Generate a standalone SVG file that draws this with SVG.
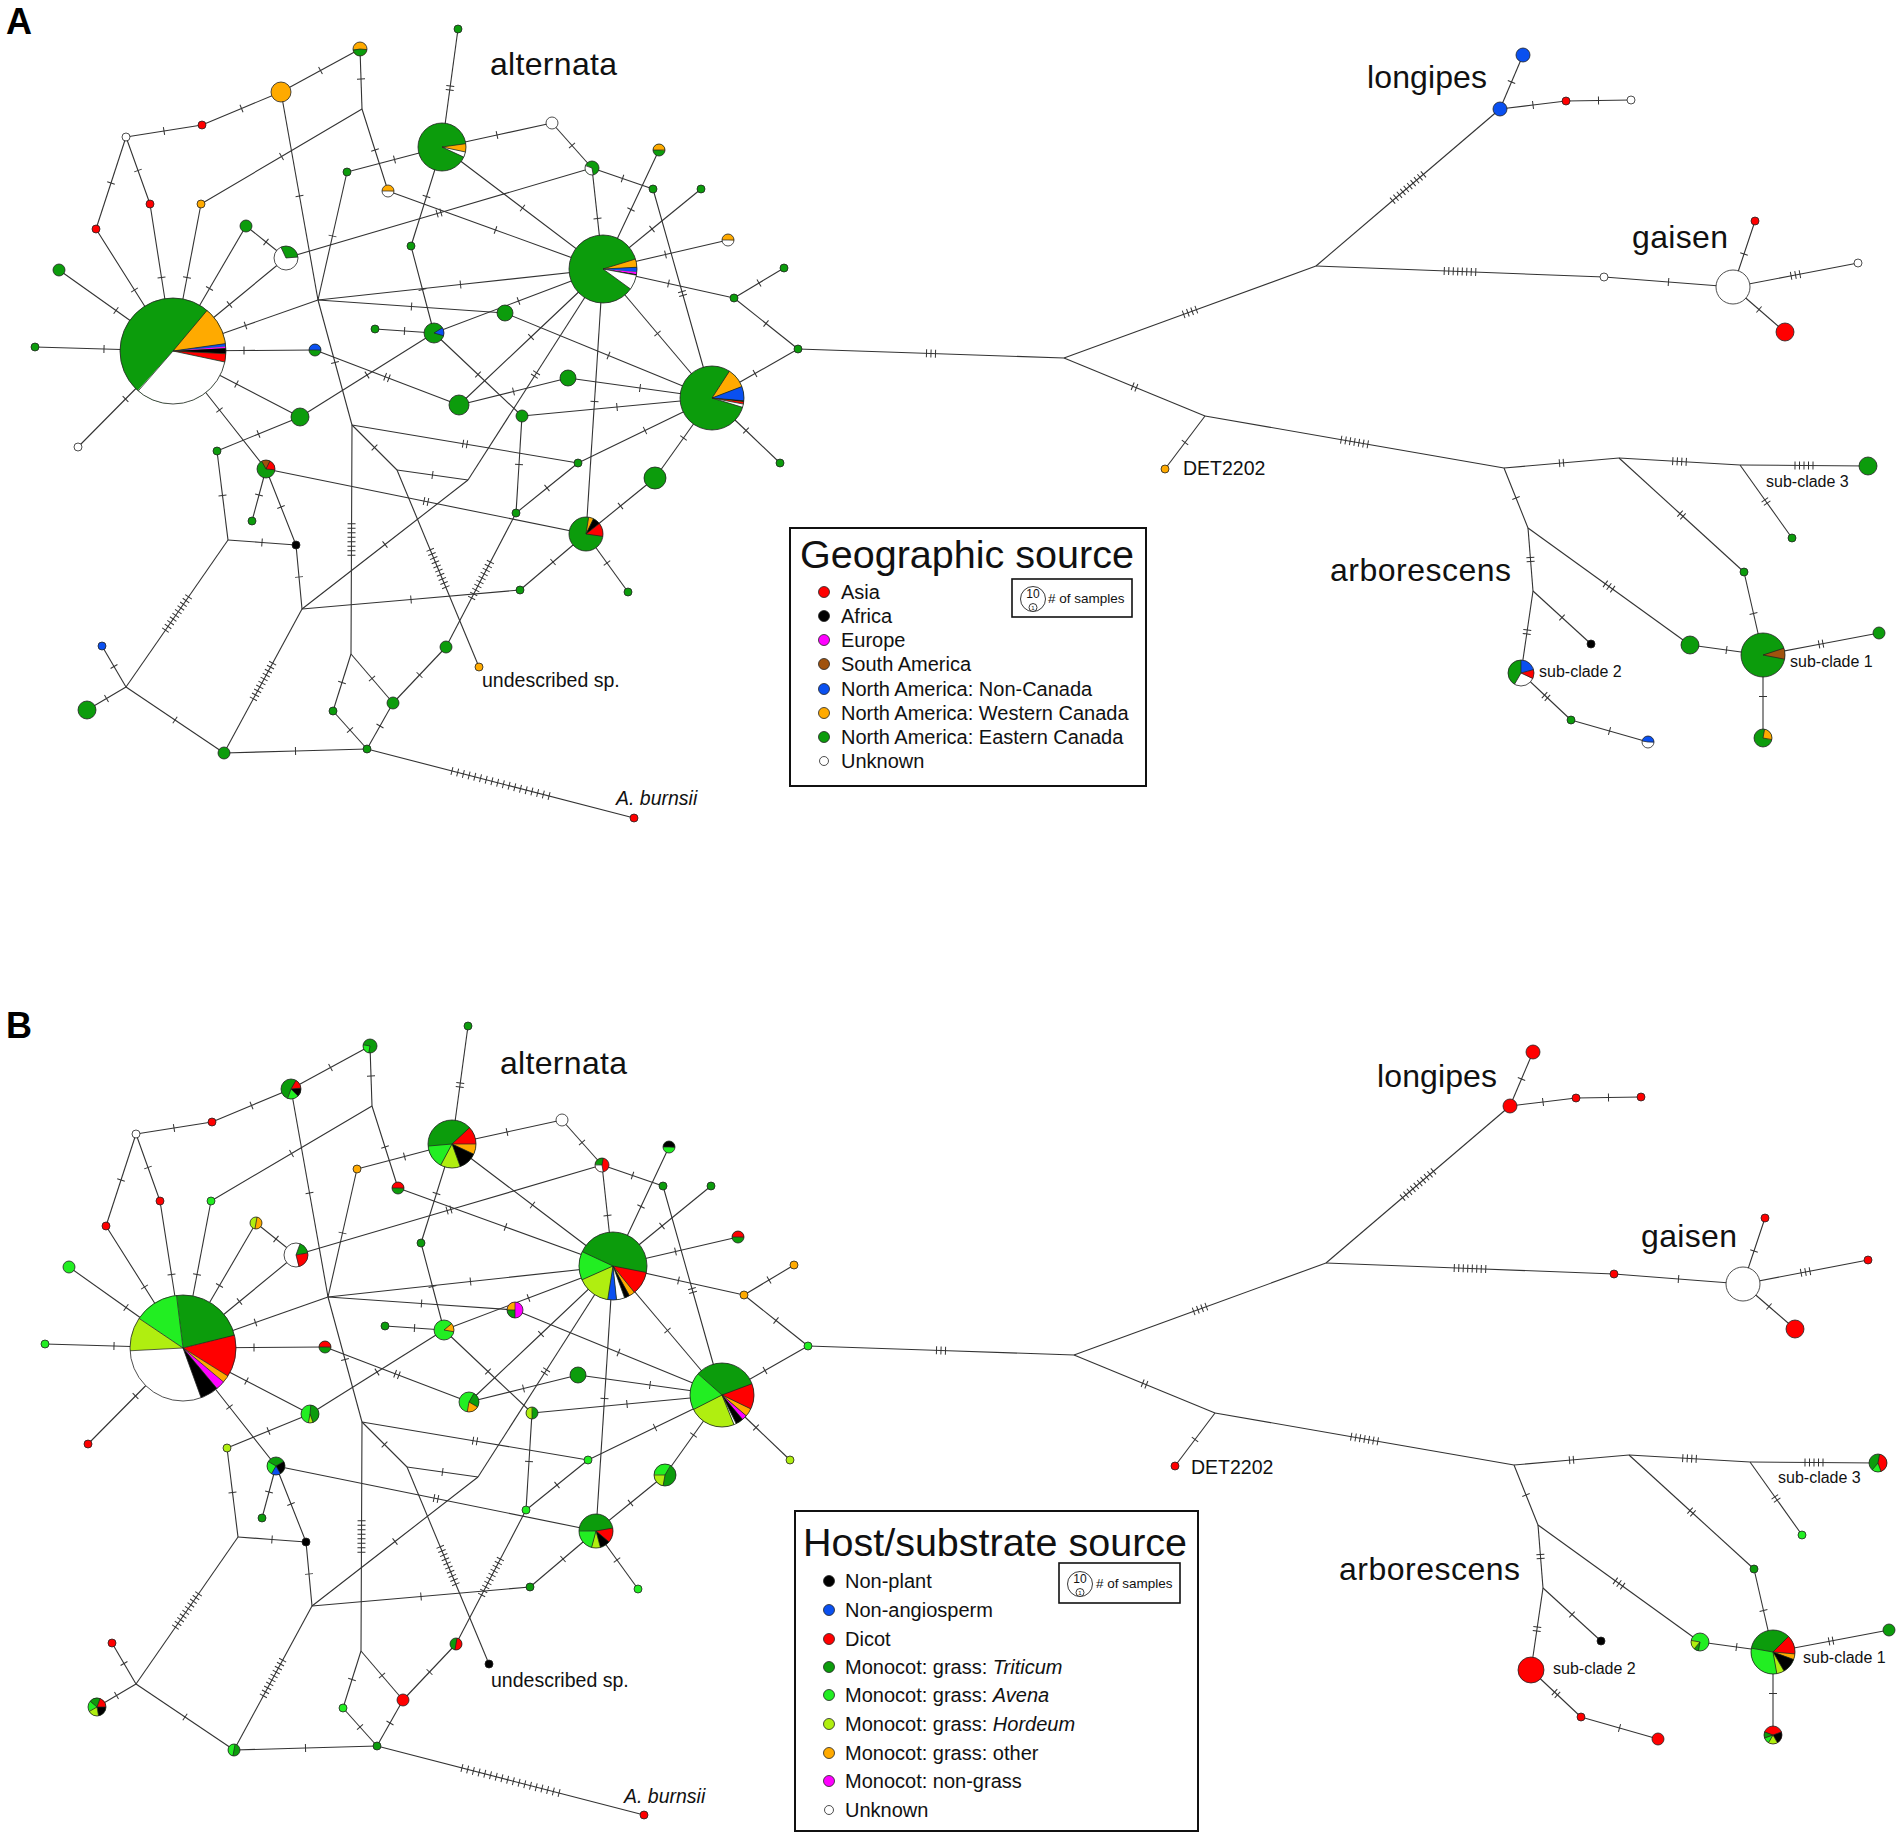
<svg xmlns="http://www.w3.org/2000/svg" xmlns:xlink="http://www.w3.org/1999/xlink" width="1902" height="1838" viewBox="0 0 1902 1838">
<style>
text{font-family:"Liberation Sans",Arial,sans-serif;fill:#111}
.pl{font-size:36px;font-weight:bold;fill:#000}
.cl{font-size:32px}
.sl{font-size:19.5px}
.sub{font-size:16px}
.lt{font-size:39px}
.li{font-size:20px}
.ls{font-size:13.5px}
.edges path{fill:none;stroke:#333;stroke-width:1.1}
.tk{fill:none;stroke:#333;stroke-width:1}
.t1{marker-mid:url(#m1)}.t2{marker-mid:url(#m2)}.t3{marker-mid:url(#m3)}.t4{marker-mid:url(#m4)}.t5{marker-mid:url(#m5)}.t7{marker-mid:url(#m7)}.t8{marker-mid:url(#m8)}.t10{marker-mid:url(#m10)}.t18{marker-mid:url(#m18)}
.nd{stroke:#222;stroke-width:.8}
.sc{fill:none}
.ol{fill:none;stroke:#222;stroke-width:.8}
.bl{stroke:#222;stroke-width:.7}
.fg{fill:#0c9c0c}.fo{fill:#ffaa00}.fr{fill:#ff0000}.fk{fill:#000}.fb{fill:#0a50f0}.fm{fill:#ff00ff}.fn{fill:#a0520d}.fw{fill:#fff}.fa{fill:#22ee22}.fh{fill:#b0ee10}
.sg{stroke:#0c9c0c}.so{stroke:#ffaa00}.sr{stroke:#ff0000}.sk{stroke:#000}.sb{stroke:#0a50f0}.sm{stroke:#ff00ff}.sn{stroke:#a0520d}.sw{stroke:#fff}.sa{stroke:#22ee22}.sh{stroke:#b0ee10}
.box{fill:#fff;stroke:#111;stroke-width:2}
.ibox{fill:none;stroke:#111;stroke-width:1.6}
.ic{fill:#fff;stroke:#222;stroke-width:.9}
</style>
<defs>
<marker id="m1" markerUnits="userSpaceOnUse" orient="auto" overflow="visible" markerWidth="1" markerHeight="1" style="overflow:visible"><path class="tk" d="M0 -4V4"/></marker>
<marker id="m2" markerUnits="userSpaceOnUse" orient="auto" overflow="visible" markerWidth="1" markerHeight="1" style="overflow:visible"><path class="tk" d="M-2 -4V4M2 -4V4"/></marker>
<marker id="m3" markerUnits="userSpaceOnUse" orient="auto" overflow="visible" markerWidth="1" markerHeight="1" style="overflow:visible"><path class="tk" d="M-4.5 -4V4M0 -4V4M4.5 -4V4"/></marker>
<marker id="m4" markerUnits="userSpaceOnUse" orient="auto" overflow="visible" markerWidth="1" markerHeight="1" style="overflow:visible"><path class="tk" d="M-6.75 -4V4M-2.25 -4V4M2.25 -4V4M6.75 -4V4"/></marker>
<marker id="m5" markerUnits="userSpaceOnUse" orient="auto" overflow="visible" markerWidth="1" markerHeight="1" style="overflow:visible"><path class="tk" d="M-9 -4V4M-4.5 -4V4M0 -4V4M4.5 -4V4M9 -4V4"/></marker>
<marker id="m7" markerUnits="userSpaceOnUse" orient="auto" overflow="visible" markerWidth="1" markerHeight="1" style="overflow:visible"><path class="tk" d="M-13.5 -4V4M-9 -4V4M-4.5 -4V4M0 -4V4M4.5 -4V4M9 -4V4M13.5 -4V4"/></marker>
<marker id="m8" markerUnits="userSpaceOnUse" orient="auto" overflow="visible" markerWidth="1" markerHeight="1" style="overflow:visible"><path class="tk" d="M-15.75 -4V4M-11.25 -4V4M-6.75 -4V4M-2.25 -4V4M2.25 -4V4M6.75 -4V4M11.25 -4V4M15.75 -4V4"/></marker>
<marker id="m10" markerUnits="userSpaceOnUse" orient="auto" overflow="visible" markerWidth="1" markerHeight="1" style="overflow:visible"><path class="tk" d="M-20.25 -4V4M-15.75 -4V4M-11.25 -4V4M-6.75 -4V4M-2.25 -4V4M2.25 -4V4M6.75 -4V4M11.25 -4V4M15.75 -4V4M20.25 -4V4"/></marker>
<marker id="m18" markerUnits="userSpaceOnUse" orient="auto" overflow="visible" markerWidth="1" markerHeight="1" style="overflow:visible"><path class="tk" d="M-50.15 -4V4M-44.25 -4V4M-38.35 -4V4M-32.45 -4V4M-26.55 -4V4M-20.65 -4V4M-14.75 -4V4M-8.85 -4V4M-2.95 -4V4M2.95 -4V4M8.85 -4V4M14.75 -4V4M20.65 -4V4M26.55 -4V4M32.45 -4V4M38.35 -4V4M44.25 -4V4M50.15 -4V4"/></marker>
</defs>
<rect width="1902" height="1838" fill="#fff"/>

<!-- ============ PANEL A ============ -->
<g id="connectors-a" class="edges">
<path class="t1" d="M126 137L164 131L202 125"/>
<path class="t1" d="M202 125L241.5 108.5L281 92"/>
<path class="t1" d="M281 92L320.5 70.5L360 49"/>
<path class="t1" d="M360 49L361 79L362 109"/>
<path class="t1" d="M362 109L281.5 156.5L201 204"/>
<path class="t1" d="M362 109L375 150L388 191"/>
<path class="t1" d="M126 137L111 183L96 229"/>
<path class="t1" d="M126 137L138 170.5L150 204"/>
<path class="t1" d="M96 229L134.5 290L173 351"/>
<path class="t1" d="M150 204L161.5 277.5L173 351"/>
<path class="t1" d="M201 204L187 277.5L173 351"/>
<path class="t1" d="M246 226L209.5 288.5L173 351"/>
<path class="t1" d="M59 270L116 310.5L173 351"/>
<path class="t1" d="M35 347L104 349L173 351"/>
<path class="t1" d="M286 258L229.5 304.5L173 351"/>
<path class="t1" d="M286 258L266 242L246 226"/>
<path class="t2" d="M286 258L439 213L592 168"/>
<path class="t1" d="M281 92L299.5 196L318 300"/>
<path class="t1" d="M347 172L332.5 236L318 300"/>
<path class="t1" d="M318 300L245.5 325.5L173 351"/>
<path class="t1" d="M318 300L460.5 284.5L603 269"/>
<path class="t1" d="M318 300L411.5 306.5L505 313"/>
<path class="t1" d="M318 300L335 362.5L352 425"/>
<path class="t1" d="M347 172L394.5 159.5L442 147"/>
<path class="t1" d="M388 191L495.5 230L603 269"/>
<path class="t2" d="M442 147L450 88L458 29"/>
<path class="t1" d="M442 147L497 135L552 123"/>
<path class="t1" d="M552 123L572 145.5L592 168"/>
<path class="t1" d="M592 168L622.5 178.5L653 189"/>
<path class="t1" d="M592 168L597.5 218.5L603 269"/>
<path class="t1" d="M442 147L426.5 196.5L411 246"/>
<path class="t1" d="M411 246L422.5 289.5L434 333"/>
<path class="t1" d="M442 147L522.5 208L603 269"/>
<path class="t1" d="M659 150L631 209.5L603 269"/>
<path class="t1" d="M701 189L652 229L603 269"/>
<path class="t1" d="M728 240L665.5 254.5L603 269"/>
<path class="t1" d="M784 268L759 283L734 298"/>
<path class="t1" d="M734 298L668.5 283.5L603 269"/>
<path class="t1" d="M734 298L766 323.5L798 349"/>
<path class="t3" d="M798 349L931 353.5L1064 358"/>
<path class="t1" d="M798 349L755 373.5L712 398"/>
<path class="t2" d="M653 189L682.5 293.5L712 398"/>
<path class="t1" d="M603 269L657.5 333.5L712 398"/>
<path class="t1" d="M505 313L608.5 355.5L712 398"/>
<path class="t1" d="M568 378L640 388L712 398"/>
<path class="t1" d="M522 416L617 407L712 398"/>
<path class="t1" d="M578 463L645 430.5L712 398"/>
<path class="t1" d="M655 478L683.5 438L712 398"/>
<path class="t1" d="M780 463L746 430.5L712 398"/>
<path class="t1" d="M375 329L404.5 331L434 333"/>
<path class="t1" d="M434 333L518.5 301L603 269"/>
<path class="t1" d="M434 333L478 374.5L522 416"/>
<path class="t1" d="M434 333L367 375L300 417"/>
<path class="t1" d="M315 350L244 350.5L173 351"/>
<path class="t2" d="M315 350L387 377.5L459 405"/>
<path class="t1" d="M459 405L531 337L603 269"/>
<path class="t1" d="M459 405L513.5 391.5L568 378"/>
<path class="t2" d="M603 269L535.5 374.5L468 480"/>
<path class="t1" d="M603 269L594.5 401.5L586 534"/>
<path class="t1" d="M522 416L519 464.5L516 513"/>
<path class="t1" d="M173 351L236.5 384L300 417"/>
<path class="t1" d="M173 351L219.5 410L266 469"/>
<path class="t1" d="M173 351L125.5 399L78 447"/>
<path class="t1" d="M217 451L258.5 434L300 417"/>
<path class="t1" d="M217 451L222.5 495.5L228 540"/>
<path class="t1" d="M266 469L259 495L252 521"/>
<path class="t1" d="M266 469L281 507L296 545"/>
<path class="t1" d="M228 540L262 542.5L296 545"/>
<path class="t1" d="M296 545L299 577L302 609"/>
<path class="t10" d="M228 540L177 613.5L126 687"/>
<path class="t1" d="M126 687L114 666.5L102 646"/>
<path class="t1" d="M126 687L106.5 698.5L87 710"/>
<path class="t1" d="M126 687L175 720L224 753"/>
<path class="t10" d="M302 609L263 681L224 753"/>
<path class="t1" d="M302 609L385 544.5L468 480"/>
<path class="t1" d="M302 609L411 599.5L520 590"/>
<path class="t2" d="M266 469L426 501.5L586 534"/>
<path class="t2" d="M352 425L465 444L578 463"/>
<path class="t1" d="M352 425L374.5 447.5L397 470"/>
<path class="t8" d="M352 425L351.5 539.5L351 654"/>
<path class="t1" d="M397 470L432.5 475L468 480"/>
<path class="t10" d="M397 470L438 568.5L479 667"/>
<path class="t10" d="M516 513L481 580L446 647"/>
<path class="t1" d="M516 513L547 488L578 463"/>
<path class="t1" d="M446 647L419.5 675L393 703"/>
<path class="t1" d="M351 654L342 682.5L333 711"/>
<path class="t1" d="M351 654L372 678.5L393 703"/>
<path class="t1" d="M333 711L350 730L367 749"/>
<path class="t1" d="M393 703L380 726L367 749"/>
<path class="t1" d="M224 753L295.5 751L367 749"/>
<path class="t18" d="M367 749L500.5 783.5L634 818"/>
<path class="t1" d="M520 590L553 562L586 534"/>
<path class="t1" d="M586 534L620.5 506L655 478"/>
<path class="t1" d="M586 534L607 563L628 592"/>
<path class="t4" d="M1064 358L1190 312L1316 266"/>
<path class="t10" d="M1316 266L1408 187.5L1500 109"/>
<path class="t1" d="M1500 109L1511.5 82L1523 55"/>
<path class="t1" d="M1500 109L1533 105L1566 101"/>
<path class="t1" d="M1566 101L1598.5 100.5L1631 100"/>
<path class="t8" d="M1316 266L1460 271.5L1604 277"/>
<path class="t1" d="M1604 277L1668.5 282L1733 287"/>
<path class="t1" d="M1733 287L1744 254L1755 221"/>
<path class="t3" d="M1733 287L1795.5 275L1858 263"/>
<path class="t1" d="M1733 287L1759 309.5L1785 332"/>
<path class="t2" d="M1064 358L1134.5 387L1205 416"/>
<path class="t1" d="M1205 416L1185 442.5L1165 469"/>
<path class="t7" d="M1205 416L1354.5 442L1504 468"/>
<path class="t2" d="M1504 468L1561.5 463L1619 458"/>
<path class="t4" d="M1619 458L1679.5 461.5L1740 465"/>
<path class="t5" d="M1740 465L1804 465.5L1868 466"/>
<path class="t2" d="M1740 465L1766 501.5L1792 538"/>
<path class="t2" d="M1619 458L1681.5 515L1744 572"/>
<path class="t1" d="M1744 572L1753.5 613.5L1763 655"/>
<path class="t1" d="M1504 468L1516 498L1528 528"/>
<path class="t3" d="M1528 528L1609 586.5L1690 645"/>
<path class="t1" d="M1690 645L1726.5 650L1763 655"/>
<path class="t2" d="M1528 528L1530.5 559.5L1533 591"/>
<path class="t1" d="M1533 591L1562 617.5L1591 644"/>
<path class="t2" d="M1533 591L1527 632L1521 673"/>
<path class="t2" d="M1521 673L1546 696.5L1571 720"/>
<path class="t1" d="M1571 720L1609.5 731L1648 742"/>
<path class="t2" d="M1763 655L1821 644L1879 633"/>
<path class="t1" d="M1763 655L1763 696.5L1763 738"/>
</g>

<g id="nodes-a">
<g id="a-n0"><circle class="nd fg" cx="458" cy="29" r="4"/></g>
<g id="a-n2"><circle class="nd fw" cx="126" cy="137" r="4"/></g>
<g id="a-n3"><circle class="nd fr" cx="202" cy="125" r="4"/></g>
<g id="a-n4"><circle class="nd fo" cx="281" cy="92" r="10"/></g>
<g id="a-n6"><circle class="nd fr" cx="96" cy="229" r="4"/></g>
<g id="a-n7"><circle class="nd fr" cx="150" cy="204" r="4"/></g>
<g id="a-n8"><circle class="nd fo" cx="201" cy="204" r="4"/></g>
<g id="a-n9"><circle class="nd fg" cx="246" cy="226" r="6"/></g>
<g id="a-n10"><circle class="nd fg" cx="59" cy="270" r="6"/></g>
<g id="a-n11"><circle class="nd fg" cx="35" cy="347" r="4"/></g>
<g id="a-n13"><circle class="nd fg" cx="347" cy="172" r="4"/></g>
<g id="a-n16"><circle class="nd fg" cx="411" cy="246" r="4"/></g>
<g id="a-nw"><circle class="nd fw" cx="552" cy="123" r="6"/></g>
<g id="a-n19"><circle class="nd fg" cx="653" cy="189" r="4"/></g>
<g id="a-n20"><circle class="nd fg" cx="701" cy="189" r="4"/></g>
<g id="a-n22"><circle class="nd fg" cx="784" cy="268" r="4"/></g>
<g id="a-n23"><circle class="nd fg" cx="734" cy="298" r="4"/></g>
<g id="a-n24"><circle class="nd fg" cx="798" cy="349" r="4"/></g>
<g id="a-n27"><circle class="nd fg" cx="568" cy="378" r="8"/></g>
<g id="a-n28"><circle class="nd fg" cx="505" cy="313" r="8"/></g>
<g id="a-n30"><circle class="nd fg" cx="459" cy="405" r="10"/></g>
<g id="a-n31"><circle class="nd fg" cx="522" cy="416" r="6"/></g>
<g id="a-n32"><circle class="nd fg" cx="375" cy="329" r="4"/></g>
<g id="a-n34"><circle class="nd fg" cx="300" cy="417" r="9"/></g>
<g id="a-n35"><circle class="nd fw" cx="78" cy="447" r="4"/></g>
<g id="a-n36"><circle class="nd fg" cx="217" cy="451" r="4"/></g>
<g id="a-n38"><circle class="nd fg" cx="252" cy="521" r="4"/></g>
<g id="a-n39"><circle class="nd fk" cx="296" cy="545" r="4"/></g>
<g id="a-n40"><circle class="nd fb" cx="102" cy="646" r="4"/></g>
<g id="a-n41"><circle class="nd fg" cx="87" cy="710" r="9"/></g>
<g id="a-n42"><circle class="nd fg" cx="224" cy="753" r="6"/></g>
<g id="a-n43"><circle class="nd fg" cx="333" cy="711" r="4"/></g>
<g id="a-n44"><circle class="nd fg" cx="393" cy="703" r="6"/></g>
<g id="a-n45"><circle class="nd fg" cx="367" cy="749" r="4"/></g>
<g id="a-n46"><circle class="nd fg" cx="446" cy="647" r="6"/></g>
<g id="a-n47"><circle class="nd fo" cx="479" cy="667" r="4"/></g>
<g id="a-n48"><circle class="nd fg" cx="578" cy="463" r="4"/></g>
<g id="a-n49"><circle class="nd fg" cx="516" cy="513" r="4"/></g>
<g id="a-n50"><circle class="nd fg" cx="520" cy="590" r="4"/></g>
<g id="a-n52"><circle class="nd fg" cx="628" cy="592" r="4"/></g>
<g id="a-n53"><circle class="nd fg" cx="655" cy="478" r="11"/></g>
<g id="a-n54"><circle class="nd fg" cx="780" cy="463" r="4"/></g>
<g id="a-n55"><circle class="nd fr" cx="634" cy="818" r="4"/></g>
<g id="a-n57"><circle class="nd fb" cx="1500" cy="109" r="7"/></g>
<g id="a-n58"><circle class="nd fb" cx="1523" cy="55" r="7"/></g>
<g id="a-n59"><circle class="nd fr" cx="1566" cy="101" r="4"/></g>
<g id="a-n60"><circle class="nd fw" cx="1631" cy="100" r="4"/></g>
<g id="a-n61"><circle class="nd fw" cx="1604" cy="277" r="4"/></g>
<g id="a-n62"><circle class="nd fw" cx="1733" cy="287" r="17"/></g>
<g id="a-n63"><circle class="nd fr" cx="1755" cy="221" r="4"/></g>
<g id="a-n64"><circle class="nd fw" cx="1858" cy="263" r="4"/></g>
<g id="a-n65"><circle class="nd fr" cx="1785" cy="332" r="9"/></g>
<g id="a-n66"><circle class="nd fo" cx="1165" cy="469" r="4"/></g>
<g id="a-n67"><circle class="nd fg" cx="1868" cy="466" r="9"/></g>
<g id="a-n68"><circle class="nd fg" cx="1792" cy="538" r="4"/></g>
<g id="a-n69"><circle class="nd fg" cx="1744" cy="572" r="4"/></g>
<g id="a-n70"><circle class="nd fg" cx="1690" cy="645" r="9"/></g>
<g id="a-n72"><circle class="nd fg" cx="1879" cy="633" r="6"/></g>
<g id="a-n74"><circle class="nd fk" cx="1591" cy="644" r="4"/></g>
<g id="a-n76"><circle class="nd fg" cx="1571" cy="720" r="4"/></g>

<g id="a-p1" transform="translate(173 351)"><circle class="fg" r="53"/>
<circle class="sc so" r="26.5" stroke-width="53" stroke-dasharray="19.43 999" transform="rotate(-50)"/>
<circle class="sc sb" r="26.5" stroke-width="53" stroke-dasharray="1.39 999" transform="rotate(-8)"/>
<circle class="sc sm" r="26.5" stroke-width="53" stroke-dasharray="0.93 999" transform="rotate(-5)"/>
<circle class="sc sk" r="26.5" stroke-width="53" stroke-dasharray="2.78 999" transform="rotate(-3)"/>
<circle class="sc sr" r="26.5" stroke-width="53" stroke-dasharray="4.16 999" transform="rotate(3)"/>
<circle class="sc sw" r="26.5" stroke-width="53" stroke-dasharray="55.04 999" transform="rotate(12)"/>
<line class="bl" x2="53" transform="rotate(-50)"/><line class="bl" x2="53" transform="rotate(-8)"/><line class="bl" x2="53" transform="rotate(3)"/><line class="bl" x2="53" transform="rotate(12)"/><line class="bl" x2="53" transform="rotate(131)"/>
<circle class="ol" r="53"/></g>
<g id="a-p15" transform="translate(442 147)"><circle class="fg" r="24"/>
<circle class="sc so" r="12" stroke-width="24" stroke-dasharray="4.19 999" transform="rotate(-8)"/>
<circle class="sc sw" r="12" stroke-width="24" stroke-dasharray="2.72 999" transform="rotate(12)"/>
<line class="bl" x2="24" transform="rotate(-8)"/><line class="bl" x2="24" transform="rotate(12)"/><line class="bl" x2="24" transform="rotate(25)"/>
<circle class="ol" r="24"/></g>
<g id="a-p25" transform="translate(603 269)"><circle class="fg" r="34"/>
<circle class="sc so" r="17" stroke-width="34" stroke-dasharray="4.15 999" transform="rotate(-17)"/>
<circle class="sc sb" r="17" stroke-width="34" stroke-dasharray="2.37 999" transform="rotate(-3)"/>
<circle class="sc sm" r="17" stroke-width="34" stroke-dasharray="1.19 999" transform="rotate(5)"/>
<circle class="sc sk" r="17" stroke-width="34" stroke-dasharray="0.45 999" transform="rotate(9)"/>
<circle class="sc sw" r="17" stroke-width="34" stroke-dasharray="7.57 999" transform="rotate(10.5)"/>
<line class="bl" x2="34" transform="rotate(-17)"/><line class="bl" x2="34" transform="rotate(-3)"/><line class="bl" x2="34" transform="rotate(10.5)"/><line class="bl" x2="34" transform="rotate(36)"/>
<circle class="ol" r="34"/></g>
<g id="a-p26" transform="translate(712 398)"><circle class="fg" r="32"/>
<circle class="sc so" r="16" stroke-width="32" stroke-dasharray="10.05 999" transform="rotate(-57)"/>
<circle class="sc sb" r="16" stroke-width="32" stroke-dasharray="7.26 999" transform="rotate(-21)"/>
<circle class="sc sk" r="16" stroke-width="32" stroke-dasharray="0.56 999" transform="rotate(5)"/>
<circle class="sc sr" r="16" stroke-width="32" stroke-dasharray="1.12 999" transform="rotate(7)"/>
<circle class="sc sw" r="16" stroke-width="32" stroke-dasharray="1.68 999" transform="rotate(11)"/>
<line class="bl" x2="32" transform="rotate(-57)"/><line class="bl" x2="32" transform="rotate(-21)"/><line class="bl" x2="32" transform="rotate(5)"/><line class="bl" x2="32" transform="rotate(11)"/><line class="bl" x2="32" transform="rotate(17)"/>
<circle class="ol" r="32"/></g>
<g id="a-p51" transform="translate(586 534)"><circle class="fg" r="17"/>
<circle class="sc so" r="8.5" stroke-width="17" stroke-dasharray="2.52 999" transform="rotate(-81)"/>
<circle class="sc sk" r="8.5" stroke-width="17" stroke-dasharray="3.86 999" transform="rotate(-64)"/>
<circle class="sc sr" r="8.5" stroke-width="17" stroke-dasharray="6.82 999" transform="rotate(-38)"/>
<line class="bl" x2="17" transform="rotate(-81)"/><line class="bl" x2="17" transform="rotate(-64)"/><line class="bl" x2="17" transform="rotate(-38)"/><line class="bl" x2="17" transform="rotate(8)"/>
<circle class="ol" r="17"/></g>
<g id="a-n12" transform="translate(286 258)"><circle class="fw" r="12"/>
<circle class="sc sg" r="6" stroke-width="12" stroke-dasharray="11.52 999" transform="rotate(-115)"/>
<line class="bl" x2="12" transform="rotate(-115)"/><line class="bl" x2="12" transform="rotate(-5)"/>
<circle class="ol" r="12"/></g>
<g id="a-n5" transform="translate(360 49)"><circle class="fo" r="7"/>
<circle class="sc sg" r="3.5" stroke-width="7" stroke-dasharray="10.08 999" transform="rotate(5)"/>
<line class="bl" x2="7" transform="rotate(5)"/><line class="bl" x2="7" transform="rotate(170)"/>
<circle class="ol" r="7"/></g>
<g id="a-n14" transform="translate(388 191)"><circle class="fw" r="6"/>
<circle class="sc so" r="3" stroke-width="6" stroke-dasharray="9.42 999" transform="rotate(180)"/>
<line class="bl" x1="-6" x2="6"/><circle class="ol" r="6"/></g>
<g id="a-n18" transform="translate(659 150)"><circle class="fg" r="6"/>
<circle class="sc so" r="3" stroke-width="6" stroke-dasharray="9.42 999" transform="rotate(180)"/>
<line class="bl" x1="-6" x2="6"/><circle class="ol" r="6"/></g>
<g id="a-n21" transform="translate(728 240)"><circle class="fw" r="6"/>
<circle class="sc so" r="3" stroke-width="6" stroke-dasharray="9.42 999" transform="rotate(180)"/>
<line class="bl" x1="-6" x2="6"/><circle class="ol" r="6"/></g>
<g id="a-n17" transform="translate(592 168)"><circle class="fg" r="7"/>
<circle class="sc sw" r="3.5" stroke-width="7" stroke-dasharray="7.33 999" transform="rotate(80)"/>
<line class="bl" x2="7" transform="rotate(80)"/><line class="bl" x2="7" transform="rotate(200)"/>
<circle class="ol" r="7"/></g>
<g id="a-n29" transform="translate(434 333)"><circle class="fg" r="10"/>
<circle class="sc sb" r="5" stroke-width="10" stroke-dasharray="4.19 999" transform="rotate(-32)"/>
<line class="bl" x2="10" transform="rotate(-32)"/><line class="bl" x2="10" transform="rotate(16)"/>
<circle class="ol" r="10"/></g>
<g id="a-n33" transform="translate(315 350)"><circle class="fg" r="6"/>
<circle class="sc sb" r="3" stroke-width="6" stroke-dasharray="9.42 999" transform="rotate(180)"/>
<line class="bl" x1="-6" x2="6"/><circle class="ol" r="6"/></g>
<g id="a-n37" transform="translate(266 469)"><circle class="fg" r="9"/>
<circle class="sc sn" r="4.5" stroke-width="9" stroke-dasharray="4.32 999" transform="rotate(-119)"/>
<circle class="sc sr" r="4.5" stroke-width="9" stroke-dasharray="5.42 999" transform="rotate(-64)"/>
<line class="bl" x2="9" transform="rotate(-119)"/><line class="bl" x2="9" transform="rotate(-64)"/><line class="bl" x2="9" transform="rotate(5)"/>
<circle class="ol" r="9"/></g>
<g id="a-n73" transform="translate(1763 738)"><circle class="fg" r="9"/>
<circle class="sc so" r="4.5" stroke-width="9" stroke-dasharray="7.07 999" transform="rotate(-80)"/>
<line class="bl" x2="9" transform="rotate(-80)"/><line class="bl" x2="9" transform="rotate(10)"/>
<circle class="ol" r="9"/></g>
<g id="a-p71" transform="translate(1763 655)"><circle class="fg" r="22"/>
<circle class="sc sn" r="11" stroke-width="22" stroke-dasharray="5.57 999" transform="rotate(-18)"/>
<line class="bl" x2="22" transform="rotate(-18)"/><line class="bl" x2="22" transform="rotate(11)"/>
<circle class="ol" r="22"/></g>
<g id="a-n75" transform="translate(1521 673)"><circle class="fw" r="13"/>
<circle class="sc sg" r="6.5" stroke-width="13" stroke-dasharray="17.02 999" transform="rotate(120)"/>
<circle class="sc sb" r="6.5" stroke-width="13" stroke-dasharray="8.51 999" transform="rotate(270)"/>
<circle class="sc sr" r="6.5" stroke-width="13" stroke-dasharray="4.54 999" transform="rotate(345)"/>
<line class="bl" x2="13" transform="rotate(25)"/><line class="bl" x2="13" transform="rotate(120)"/><line class="bl" x2="13" transform="rotate(270)"/><line class="bl" x2="13" transform="rotate(345)"/>
<circle class="ol" r="13"/></g>
<g id="a-n77" transform="translate(1648 742)"><circle class="fw" r="6"/>
<circle class="sc sb" r="3" stroke-width="6" stroke-dasharray="8.9 999" transform="rotate(190)"/>
<line class="bl" x2="6" transform="rotate(190)"/><line class="bl" x2="6"/>
<circle class="ol" r="6"/></g>
</g>

<g id="labels-a">
<text class="pl" x="6" y="34">A</text>
<text class="cl" x="490" y="75" textLength="127">alternata</text>
<text class="cl" x="1367" y="88" textLength="120">longipes</text>
<text class="cl" x="1632" y="248" textLength="96">gaisen</text>
<text class="cl" x="1330" y="581" textLength="181">arborescens</text>
<text class="sl" x="482" y="687">undescribed sp.</text>
<text class="sl" x="616" y="805" font-style="italic">A. burnsii</text>
<text class="sl" x="1183" y="475">DET2202</text>
<text class="sub" x="1766" y="487">sub-clade 3</text>
<text class="sub" x="1790" y="667">sub-clade 1</text>
<text class="sub" x="1539" y="677">sub-clade 2</text>
</g>

<g id="legend-a">
<rect class="box" x="790" y="528" width="356" height="258"/>
<text class="lt" x="800" y="568" textLength="334" lengthAdjust="spacingAndGlyphs">Geographic source</text>
<rect class="ibox" x="1012" y="579" width="120" height="38"/>
<circle class="ic" cx="1033" cy="599" r="12.5"/>
<circle class="ic" cx="1033" cy="607.5" r="4"/>
<text x="1033" y="598" font-size="12" text-anchor="middle">10</text>
<text x="1033" y="609.5" font-size="6" text-anchor="middle">1</text>
<text class="ls" x="1048" y="603">#&#160;of samples</text>
<circle class="nd fr" cx="824" cy="592" r="5.5"/><text class="li" x="841" y="599">Asia</text>
<circle class="nd fk" cx="824" cy="616" r="5.5"/><text class="li" x="841" y="623">Africa</text>
<circle class="nd fm" cx="824" cy="640" r="5.5"/><text class="li" x="841" y="647">Europe</text>
<circle class="nd fn" cx="824" cy="664" r="5.5"/><text class="li" x="841" y="671">South America</text>
<circle class="nd fb" cx="824" cy="689" r="5.5"/><text class="li" x="841" y="696">North America: Non-Canada</text>
<circle class="nd fo" cx="824" cy="713" r="5.5"/><text class="li" x="841" y="720">North America: Western Canada</text>
<circle class="nd fg" cx="824" cy="737" r="5.5"/><text class="li" x="841" y="744">North America: Eastern Canada</text>
<circle class="nd fw" cx="824" cy="761" r="4.5"/><text class="li" x="841" y="768">Unknown</text>
</g>

<!-- ============ PANEL B ============ -->
<g id="connectors-b"><use href="#connectors-a" xlink:href="#connectors-a" transform="translate(10 997)"/></g>

<g id="nodes-b">
<g id="b-n0"><circle class="nd fg" cx="468" cy="1026" r="4"/></g>
<g id="b-n2"><circle class="nd fw" cx="136" cy="1134" r="4"/></g>
<g id="b-n3"><circle class="nd fr" cx="212" cy="1122" r="4"/></g>
<g id="b-n6"><circle class="nd fr" cx="106" cy="1226" r="4"/></g>
<g id="b-n7"><circle class="nd fr" cx="160" cy="1201" r="4"/></g>
<g id="b-n8"><circle class="nd fa" cx="211" cy="1201" r="4"/></g>
<g id="b-n10"><circle class="nd fa" cx="69" cy="1267" r="6"/></g>
<g id="b-n11"><circle class="nd fa" cx="45" cy="1344" r="4"/></g>
<g id="b-n13"><circle class="nd fo" cx="357" cy="1169" r="4"/></g>
<g id="b-n16"><circle class="nd fg" cx="421" cy="1243" r="4"/></g>
<g id="b-nw"><circle class="nd fw" cx="562" cy="1120" r="6"/></g>
<g id="b-n19"><circle class="nd fg" cx="663" cy="1186" r="4"/></g>
<g id="b-n20"><circle class="nd fg" cx="711" cy="1186" r="4"/></g>
<g id="b-n22"><circle class="nd fo" cx="794" cy="1265" r="4"/></g>
<g id="b-n23"><circle class="nd fo" cx="744" cy="1295" r="4"/></g>
<g id="b-n24"><circle class="nd fa" cx="808" cy="1346" r="4"/></g>
<g id="b-n27"><circle class="nd fg" cx="578" cy="1375" r="8"/></g>
<g id="b-n32"><circle class="nd fg" cx="385" cy="1326" r="4"/></g>
<g id="b-n35"><circle class="nd fr" cx="88" cy="1444" r="4"/></g>
<g id="b-n36"><circle class="nd fh" cx="227" cy="1448" r="4"/></g>
<g id="b-n38"><circle class="nd fg" cx="262" cy="1518" r="4"/></g>
<g id="b-n39"><circle class="nd fk" cx="306" cy="1542" r="4"/></g>
<g id="b-n40"><circle class="nd fr" cx="112" cy="1643" r="4"/></g>
<g id="b-n43"><circle class="nd fa" cx="343" cy="1708" r="4"/></g>
<g id="b-n44"><circle class="nd fr" cx="403" cy="1700" r="6"/></g>
<g id="b-n45"><circle class="nd fg" cx="377" cy="1746" r="4"/></g>
<g id="b-n47"><circle class="nd fk" cx="489" cy="1664" r="4"/></g>
<g id="b-n48"><circle class="nd fa" cx="588" cy="1460" r="4"/></g>
<g id="b-n49"><circle class="nd fa" cx="526" cy="1510" r="4"/></g>
<g id="b-n50"><circle class="nd fg" cx="530" cy="1587" r="4"/></g>
<g id="b-n52"><circle class="nd fa" cx="638" cy="1589" r="4"/></g>
<g id="b-n54"><circle class="nd fh" cx="790" cy="1460" r="4"/></g>
<g id="b-n55"><circle class="nd fr" cx="644" cy="1815" r="4"/></g>
<g id="b-n57"><circle class="nd fr" cx="1510" cy="1106" r="7"/></g>
<g id="b-n58"><circle class="nd fr" cx="1533" cy="1052" r="7"/></g>
<g id="b-n59"><circle class="nd fr" cx="1576" cy="1098" r="4"/></g>
<g id="b-n60"><circle class="nd fr" cx="1641" cy="1097" r="4"/></g>
<g id="b-n61"><circle class="nd fr" cx="1614" cy="1274" r="4"/></g>
<g id="b-n62"><circle class="nd fw" cx="1743" cy="1284" r="17"/></g>
<g id="b-n63"><circle class="nd fr" cx="1765" cy="1218" r="4"/></g>
<g id="b-n64"><circle class="nd fr" cx="1868" cy="1260" r="4"/></g>
<g id="b-n65"><circle class="nd fr" cx="1795" cy="1329" r="9"/></g>
<g id="b-n66"><circle class="nd fr" cx="1175" cy="1466" r="4"/></g>
<g id="b-n68"><circle class="nd fa" cx="1802" cy="1535" r="4"/></g>
<g id="b-n69"><circle class="nd fg" cx="1754" cy="1569" r="4"/></g>
<g id="b-n72"><circle class="nd fg" cx="1889" cy="1630" r="6"/></g>
<g id="b-n74"><circle class="nd fk" cx="1601" cy="1641" r="4"/></g>
<g id="b-n75"><circle class="nd fr" cx="1531" cy="1670" r="13"/></g>
<g id="b-n76"><circle class="nd fr" cx="1581" cy="1717" r="4"/></g>
<g id="b-n77"><circle class="nd fr" cx="1658" cy="1739" r="6"/></g>

<g id="b-p1" transform="translate(183 1348)"><circle class="fw" r="53"/>
<circle class="sc sg" r="26.5" stroke-width="53" stroke-dasharray="38.39 999" transform="rotate(-97)"/>
<circle class="sc sr" r="26.5" stroke-width="53" stroke-dasharray="21.28 999" transform="rotate(-14)"/>
<circle class="sc so" r="26.5" stroke-width="53" stroke-dasharray="3.7 999" transform="rotate(32)"/>
<circle class="sc sm" r="26.5" stroke-width="53" stroke-dasharray="4.63 999" transform="rotate(40)"/>
<circle class="sc sk" r="26.5" stroke-width="53" stroke-dasharray="9.25 999" transform="rotate(50)"/>
<circle class="sc sh" r="26.5" stroke-width="53" stroke-dasharray="17.11 999" transform="rotate(177)"/>
<circle class="sc sa" r="26.5" stroke-width="53" stroke-dasharray="22.66 999" transform="rotate(214)"/>
<line class="bl" x2="53" transform="rotate(-97)"/><line class="bl" x2="53" transform="rotate(-14)"/><line class="bl" x2="53" transform="rotate(32)"/><line class="bl" x2="53" transform="rotate(40)"/><line class="bl" x2="53" transform="rotate(50)"/><line class="bl" x2="53" transform="rotate(70)"/><line class="bl" x2="53" transform="rotate(177)"/><line class="bl" x2="53" transform="rotate(214)"/>
<circle class="ol" r="53"/></g>
<g id="b-p15" transform="translate(452 1144)"><circle class="fg" r="24"/>
<circle class="sc sr" r="12" stroke-width="24" stroke-dasharray="9.01 999" transform="rotate(-43)"/>
<circle class="sc so" r="12" stroke-width="24" stroke-dasharray="5.24 999"/>
<circle class="sc sk" r="12" stroke-width="24" stroke-dasharray="9.42 999" transform="rotate(25)"/>
<circle class="sc sh" r="12" stroke-width="24" stroke-dasharray="10.05 999" transform="rotate(70)"/>
<circle class="sc sa" r="12" stroke-width="24" stroke-dasharray="11.94 999" transform="rotate(118)"/>
<line class="bl" x2="24" transform="rotate(-43)"/><line class="bl" x2="24"/><line class="bl" x2="24" transform="rotate(25)"/><line class="bl" x2="24" transform="rotate(70)"/><line class="bl" x2="24" transform="rotate(118)"/><line class="bl" x2="24" transform="rotate(175)"/>
<circle class="ol" r="24"/></g>
<g id="b-p25" transform="translate(613 1266)"><circle class="fg" r="34"/>
<circle class="sc sr" r="17" stroke-width="34" stroke-dasharray="11.87 999" transform="rotate(11)"/>
<circle class="sc so" r="17" stroke-width="34" stroke-dasharray="2.97 999" transform="rotate(51)"/>
<circle class="sc sk" r="17" stroke-width="34" stroke-dasharray="2.67 999" transform="rotate(61)"/>
<circle class="sc sw" r="17" stroke-width="34" stroke-dasharray="4.15 999" transform="rotate(70)"/>
<circle class="sc sb" r="17" stroke-width="34" stroke-dasharray="4.45 999" transform="rotate(84)"/>
<circle class="sc sh" r="17" stroke-width="34" stroke-dasharray="16.91 999" transform="rotate(99)"/>
<circle class="sc sa" r="17" stroke-width="34" stroke-dasharray="14.54 999" transform="rotate(156)"/>
<line class="bl" x2="34" transform="rotate(11)"/><line class="bl" x2="34" transform="rotate(51)"/><line class="bl" x2="34" transform="rotate(61)"/><line class="bl" x2="34" transform="rotate(70)"/><line class="bl" x2="34" transform="rotate(84)"/><line class="bl" x2="34" transform="rotate(99)"/><line class="bl" x2="34" transform="rotate(156)"/><line class="bl" x2="34" transform="rotate(205)"/>
<circle class="ol" r="34"/></g>
<g id="b-p26" transform="translate(722 1395)"><circle class="fg" r="32"/>
<circle class="sc sr" r="16" stroke-width="32" stroke-dasharray="12.93 999" transform="rotate(-20.6)"/>
<circle class="sc so" r="16" stroke-width="32" stroke-dasharray="4.16 999" transform="rotate(25.7)"/>
<circle class="sc sm" r="16" stroke-width="32" stroke-dasharray="2.62 999" transform="rotate(40.6)"/>
<circle class="sc sk" r="16" stroke-width="32" stroke-dasharray="3.83 999" transform="rotate(50)"/>
<circle class="sc sw" r="16" stroke-width="32" stroke-dasharray="1.2 999" transform="rotate(63.7)"/>
<circle class="sc sh" r="16" stroke-width="32" stroke-dasharray="23.74 999" transform="rotate(68)"/>
<circle class="sc sa" r="16" stroke-width="32" stroke-dasharray="19.13 999" transform="rotate(153)"/>
<line class="bl" x2="32" transform="rotate(-20.6)"/><line class="bl" x2="32" transform="rotate(25.7)"/><line class="bl" x2="32" transform="rotate(40.6)"/><line class="bl" x2="32" transform="rotate(50)"/><line class="bl" x2="32" transform="rotate(63.7)"/><line class="bl" x2="32" transform="rotate(68)"/><line class="bl" x2="32" transform="rotate(153)"/><line class="bl" x2="32" transform="rotate(221.5)"/>
<circle class="ol" r="32"/></g>
<g id="b-p51" transform="translate(596 1531)"><circle class="fg" r="17"/>
<circle class="sc sr" r="8.5" stroke-width="17" stroke-dasharray="7.42 999" transform="rotate(-10)"/>
<circle class="sc sk" r="8.5" stroke-width="17" stroke-dasharray="5.19 999" transform="rotate(40)"/>
<circle class="sc sh" r="8.5" stroke-width="17" stroke-dasharray="4.45 999" transform="rotate(75)"/>
<circle class="sc sa" r="8.5" stroke-width="17" stroke-dasharray="11.13 999" transform="rotate(105)"/>
<line class="bl" x2="17" transform="rotate(-10)"/><line class="bl" x2="17" transform="rotate(40)"/><line class="bl" x2="17" transform="rotate(75)"/><line class="bl" x2="17" transform="rotate(105)"/><line class="bl" x2="17" transform="rotate(180)"/>
<circle class="ol" r="17"/></g>
<g id="b-p71" transform="translate(1773 1652)"><circle class="fg" r="22"/>
<circle class="sc sr" r="11" stroke-width="22" stroke-dasharray="9.6 999" transform="rotate(-45)"/>
<circle class="sc so" r="11" stroke-width="22" stroke-dasharray="2.88 999" transform="rotate(5)"/>
<circle class="sc sk" r="11" stroke-width="22" stroke-dasharray="7.68 999" transform="rotate(20)"/>
<circle class="sc sh" r="11" stroke-width="22" stroke-dasharray="3.84 999" transform="rotate(60)"/>
<circle class="sc sa" r="11" stroke-width="22" stroke-dasharray="21.12 999" transform="rotate(80)"/>
<line class="bl" x2="22" transform="rotate(-45)"/><line class="bl" x2="22" transform="rotate(5)"/><line class="bl" x2="22" transform="rotate(20)"/><line class="bl" x2="22" transform="rotate(60)"/><line class="bl" x2="22" transform="rotate(80)"/><line class="bl" x2="22" transform="rotate(190)"/>
<circle class="ol" r="22"/></g>
<g id="b-n4" transform="translate(291 1089)"><circle class="fg" r="10"/>
<circle class="sc sr" r="5" stroke-width="10" stroke-dasharray="4.8 999" transform="rotate(-60)"/>
<circle class="sc sk" r="5" stroke-width="10" stroke-dasharray="4.36 999" transform="rotate(-5)"/>
<circle class="sc sa" r="5" stroke-width="10" stroke-dasharray="5.67 999" transform="rotate(45)"/>
<line class="bl" x2="10" transform="rotate(-60)"/><line class="bl" x2="10" transform="rotate(-5)"/><line class="bl" x2="10" transform="rotate(45)"/><line class="bl" x2="10" transform="rotate(110)"/>
<circle class="ol" r="10"/></g>
<g id="b-n5" transform="translate(370 1046)"><circle class="fg" r="7"/>
<circle class="sc sa" r="3.5" stroke-width="7" stroke-dasharray="5.5 999" transform="rotate(100)"/>
<line class="bl" x2="7" transform="rotate(100)"/><line class="bl" x2="7" transform="rotate(190)"/>
<circle class="ol" r="7"/></g>
<g id="b-n9" transform="translate(256 1223)"><circle class="fh" r="6"/>
<circle class="sc so" r="3" stroke-width="6" stroke-dasharray="9.42 999" transform="rotate(-80)"/>
<line class="bl" x1="-6" x2="6" transform="rotate(-80)"/><circle class="ol" r="6"/></g>
<g id="b-n12" transform="translate(296 1255)"><circle class="fw" r="12"/>
<circle class="sc sg" r="6" stroke-width="12" stroke-dasharray="6.28 999" transform="rotate(-70)"/>
<circle class="sc sr" r="6" stroke-width="12" stroke-dasharray="8.9 999" transform="rotate(-10)"/>
<line class="bl" x2="12" transform="rotate(-70)"/><line class="bl" x2="12" transform="rotate(-10)"/><line class="bl" x2="12" transform="rotate(75)"/>
<circle class="ol" r="12"/></g>
<g id="b-n14" transform="translate(398 1188)"><circle class="fg" r="6"/>
<circle class="sc sr" r="3" stroke-width="6" stroke-dasharray="9.42 999" transform="rotate(180)"/>
<line class="bl" x1="-6" x2="6"/><circle class="ol" r="6"/></g>
<g id="b-n17" transform="translate(602 1165)"><circle class="fr" r="7"/>
<circle class="sc sg" r="3.5" stroke-width="7" stroke-dasharray="6.11 999" transform="rotate(180)"/>
<circle class="sc sw" r="3.5" stroke-width="7" stroke-dasharray="6.11 999" transform="rotate(80)"/>
<line class="bl" x2="7" transform="rotate(80)"/><line class="bl" x2="7" transform="rotate(180)"/><line class="bl" x2="7" transform="rotate(280)"/>
<circle class="ol" r="7"/></g>
<g id="b-n18" transform="translate(669 1147)"><circle class="fa" r="6"/>
<circle class="sc sk" r="3" stroke-width="6" stroke-dasharray="9.42 999" transform="rotate(180)"/>
<line class="bl" x1="-6" x2="6"/><circle class="ol" r="6"/></g>
<g id="b-n21" transform="translate(738 1237)"><circle class="fg" r="6"/>
<circle class="sc sr" r="3" stroke-width="6" stroke-dasharray="9.42 999" transform="rotate(180)"/>
<line class="bl" x1="-6" x2="6"/><circle class="ol" r="6"/></g>
<g id="b-n28" transform="translate(515 1310)"><circle class="fm" r="8"/>
<circle class="sc so" r="4" stroke-width="8" stroke-dasharray="6.28 999" transform="rotate(180)"/>
<circle class="sc sg" r="4" stroke-width="8" stroke-dasharray="6.28 999" transform="rotate(90)"/>
<line class="bl" x2="8" transform="rotate(90)"/><line class="bl" x2="8" transform="rotate(180)"/><line class="bl" x2="8" transform="rotate(270)"/>
<circle class="ol" r="8"/></g>
<g id="b-n29" transform="translate(444 1330)"><circle class="fa" r="10"/>
<circle class="sc so" r="5" stroke-width="10" stroke-dasharray="4.36 999" transform="rotate(-40)"/>
<line class="bl" x2="10" transform="rotate(-40)"/><line class="bl" x2="10" transform="rotate(10)"/>
<circle class="ol" r="10"/></g>
<g id="b-n30" transform="translate(469 1402)"><circle class="fa" r="10"/>
<circle class="sc sg" r="5" stroke-width="10" stroke-dasharray="7.85 999" transform="rotate(-60)"/>
<circle class="sc so" r="5" stroke-width="10" stroke-dasharray="6.11 999" transform="rotate(30)"/>
<line class="bl" x2="10" transform="rotate(-60)"/><line class="bl" x2="10" transform="rotate(30)"/><line class="bl" x2="10" transform="rotate(100)"/>
<circle class="ol" r="10"/></g>
<g id="b-n31" transform="translate(532 1413)"><circle class="fg" r="6"/>
<circle class="sc sh" r="3" stroke-width="6" stroke-dasharray="9.42 999" transform="rotate(90)"/>
<line class="bl" y1="-6" y2="6"/><circle class="ol" r="6"/></g>
<g id="b-n33" transform="translate(325 1347)"><circle class="fg" r="6"/>
<circle class="sc sr" r="3" stroke-width="6" stroke-dasharray="9.42 999" transform="rotate(180)"/>
<line class="bl" x1="-6" x2="6"/><circle class="ol" r="6"/></g>
<g id="b-n34" transform="translate(310 1414)"><circle class="fa" r="9"/>
<circle class="sc sg" r="4.5" stroke-width="9" stroke-dasharray="12.17 999" transform="rotate(-85)"/>
<circle class="sc sh" r="4.5" stroke-width="9" stroke-dasharray="2.36 999" transform="rotate(70)"/>
<line class="bl" x2="9" transform="rotate(-85)"/><line class="bl" x2="9" transform="rotate(70)"/><line class="bl" x2="9" transform="rotate(100)"/>
<circle class="ol" r="9"/></g>
<g id="b-n37" transform="translate(276 1466)"><circle class="fg" r="9"/>
<circle class="sc sk" r="4.5" stroke-width="9" stroke-dasharray="7.07 999" transform="rotate(-30)"/>
<circle class="sc sb" r="4.5" stroke-width="9" stroke-dasharray="4.71 999" transform="rotate(60)"/>
<circle class="sc sa" r="4.5" stroke-width="9" stroke-dasharray="7.07 999" transform="rotate(120)"/>
<line class="bl" x2="9" transform="rotate(-30)"/><line class="bl" x2="9" transform="rotate(60)"/><line class="bl" x2="9" transform="rotate(120)"/><line class="bl" x2="9" transform="rotate(210)"/>
<circle class="ol" r="9"/></g>
<g id="b-n41" transform="translate(97 1707)"><circle class="fa" r="9"/>
<circle class="sc sg" r="4.5" stroke-width="9" stroke-dasharray="5.5 999" transform="rotate(220)"/>
<circle class="sc sr" r="4.5" stroke-width="9" stroke-dasharray="5.5 999" transform="rotate(290)"/>
<circle class="sc sk" r="4.5" stroke-width="9" stroke-dasharray="6.28 999"/>
<circle class="sc sh" r="4.5" stroke-width="9" stroke-dasharray="5.5 999" transform="rotate(80)"/>
<line class="bl" x2="9"/><line class="bl" x2="9" transform="rotate(80)"/><line class="bl" x2="9" transform="rotate(150)"/><line class="bl" x2="9" transform="rotate(220)"/><line class="bl" x2="9" transform="rotate(290)"/>
<circle class="ol" r="9"/></g>
<g id="b-n42" transform="translate(234 1750)"><circle class="fg" r="6"/>
<circle class="sc sa" r="3" stroke-width="6" stroke-dasharray="9.42 999" transform="rotate(100)"/>
<line class="bl" x1="-6" x2="6" transform="rotate(100)"/><circle class="ol" r="6"/></g>
<g id="b-n46" transform="translate(456 1644)"><circle class="fg" r="6"/>
<circle class="sc sr" r="3" stroke-width="6" stroke-dasharray="9.42 999" transform="rotate(-80)"/>
<line class="bl" x1="-6" x2="6" transform="rotate(-80)"/><circle class="ol" r="6"/></g>
<g id="b-n53" transform="translate(665 1475)"><circle class="fg" r="11"/>
<circle class="sc sa" r="5.5" stroke-width="11" stroke-dasharray="11.52 999" transform="rotate(180)"/>
<circle class="sc sh" r="5.5" stroke-width="11" stroke-dasharray="7.68 999" transform="rotate(100)"/>
<line class="bl" x2="11" transform="rotate(100)"/><line class="bl" x2="11" transform="rotate(180)"/><line class="bl" x2="11" transform="rotate(300)"/>
<circle class="ol" r="11"/></g>
<g id="b-n67" transform="translate(1878 1463)"><circle class="fg" r="9"/>
<circle class="sc sr" r="4.5" stroke-width="9" stroke-dasharray="11.78 999" transform="rotate(-80)"/>
<circle class="sc sa" r="4.5" stroke-width="9" stroke-dasharray="4.71 999" transform="rotate(70)"/>
<line class="bl" x2="9" transform="rotate(-80)"/><line class="bl" x2="9" transform="rotate(70)"/><line class="bl" x2="9" transform="rotate(130)"/>
<circle class="ol" r="9"/></g>
<g id="b-n70" transform="translate(1700 1642)"><circle class="fa" r="9"/>
<circle class="sc sg" r="4.5" stroke-width="9" stroke-dasharray="2.36 999" transform="rotate(100)"/>
<circle class="sc sh" r="4.5" stroke-width="9" stroke-dasharray="4.71 999" transform="rotate(130)"/>
<line class="bl" x2="9" transform="rotate(100)"/><line class="bl" x2="9" transform="rotate(130)"/><line class="bl" x2="9" transform="rotate(190)"/>
<circle class="ol" r="9"/></g>
<g id="b-n73" transform="translate(1773 1735)"><circle class="fr" r="9"/>
<circle class="sc sk" r="4.5" stroke-width="9" stroke-dasharray="6.28 999" transform="rotate(-20)"/>
<circle class="sc sh" r="4.5" stroke-width="9" stroke-dasharray="4.71 999" transform="rotate(60)"/>
<circle class="sc sa" r="4.5" stroke-width="9" stroke-dasharray="3.14 999" transform="rotate(120)"/>
<circle class="sc sg" r="4.5" stroke-width="9" stroke-dasharray="3.14 999" transform="rotate(160)"/>
<line class="bl" x2="9" transform="rotate(-20)"/><line class="bl" x2="9" transform="rotate(60)"/><line class="bl" x2="9" transform="rotate(120)"/><line class="bl" x2="9" transform="rotate(160)"/><line class="bl" x2="9" transform="rotate(200)"/>
<circle class="ol" r="9"/></g>
</g>

<g id="labels-b">
<text class="pl" x="6" y="1038">B</text>
<text class="cl" x="500" y="1074" textLength="127">alternata</text>
<text class="cl" x="1377" y="1087" textLength="120">longipes</text>
<text class="cl" x="1641" y="1247" textLength="96">gaisen</text>
<text class="cl" x="1339" y="1580" textLength="181">arborescens</text>
<text class="sl" x="491" y="1687">undescribed sp.</text>
<text class="sl" x="624" y="1803" font-style="italic">A. burnsii</text>
<text class="sl" x="1191" y="1474">DET2202</text>
<text class="sub" x="1778" y="1483">sub-clade 3</text>
<text class="sub" x="1803" y="1663">sub-clade 1</text>
<text class="sub" x="1553" y="1674">sub-clade 2</text>
</g>

<g id="legend-b">
<rect class="box" x="795" y="1511" width="403" height="320"/>
<text class="lt" x="803" y="1556" textLength="384" lengthAdjust="spacingAndGlyphs">Host/substrate source</text>
<rect class="ibox" x="1059" y="1563" width="121" height="40"/>
<circle class="ic" cx="1080" cy="1584" r="12.5"/>
<circle class="ic" cx="1080" cy="1592.5" r="4"/>
<text x="1080" y="1583" font-size="12" text-anchor="middle">10</text>
<text x="1080" y="1594.5" font-size="6" text-anchor="middle">1</text>
<text class="ls" x="1096" y="1588">#&#160;of samples</text>
<circle class="nd fk" cx="829" cy="1581" r="5.5"/><text class="li" x="845" y="1588">Non-plant</text>
<circle class="nd fb" cx="829" cy="1610" r="5.5"/><text class="li" x="845" y="1617">Non-angiosperm</text>
<circle class="nd fr" cx="829" cy="1639" r="5.5"/><text class="li" x="845" y="1646">Dicot</text>
<circle class="nd fg" cx="829" cy="1667" r="5.5"/><text class="li" x="845" y="1674">Monocot: grass: <tspan font-style="italic">Triticum</tspan></text>
<circle class="nd fa" cx="829" cy="1695" r="5.5"/><text class="li" x="845" y="1702">Monocot: grass: <tspan font-style="italic">Avena</tspan></text>
<circle class="nd fh" cx="829" cy="1724" r="5.5"/><text class="li" x="845" y="1731">Monocot: grass: <tspan font-style="italic">Hordeum</tspan></text>
<circle class="nd fo" cx="829" cy="1753" r="5.5"/><text class="li" x="845" y="1760">Monocot: grass: other</text>
<circle class="nd fm" cx="829" cy="1781" r="5.5"/><text class="li" x="845" y="1788">Monocot: non-grass</text>
<circle class="nd fw" cx="829" cy="1810" r="4.5"/><text class="li" x="845" y="1817">Unknown</text>
</g>
</svg>
